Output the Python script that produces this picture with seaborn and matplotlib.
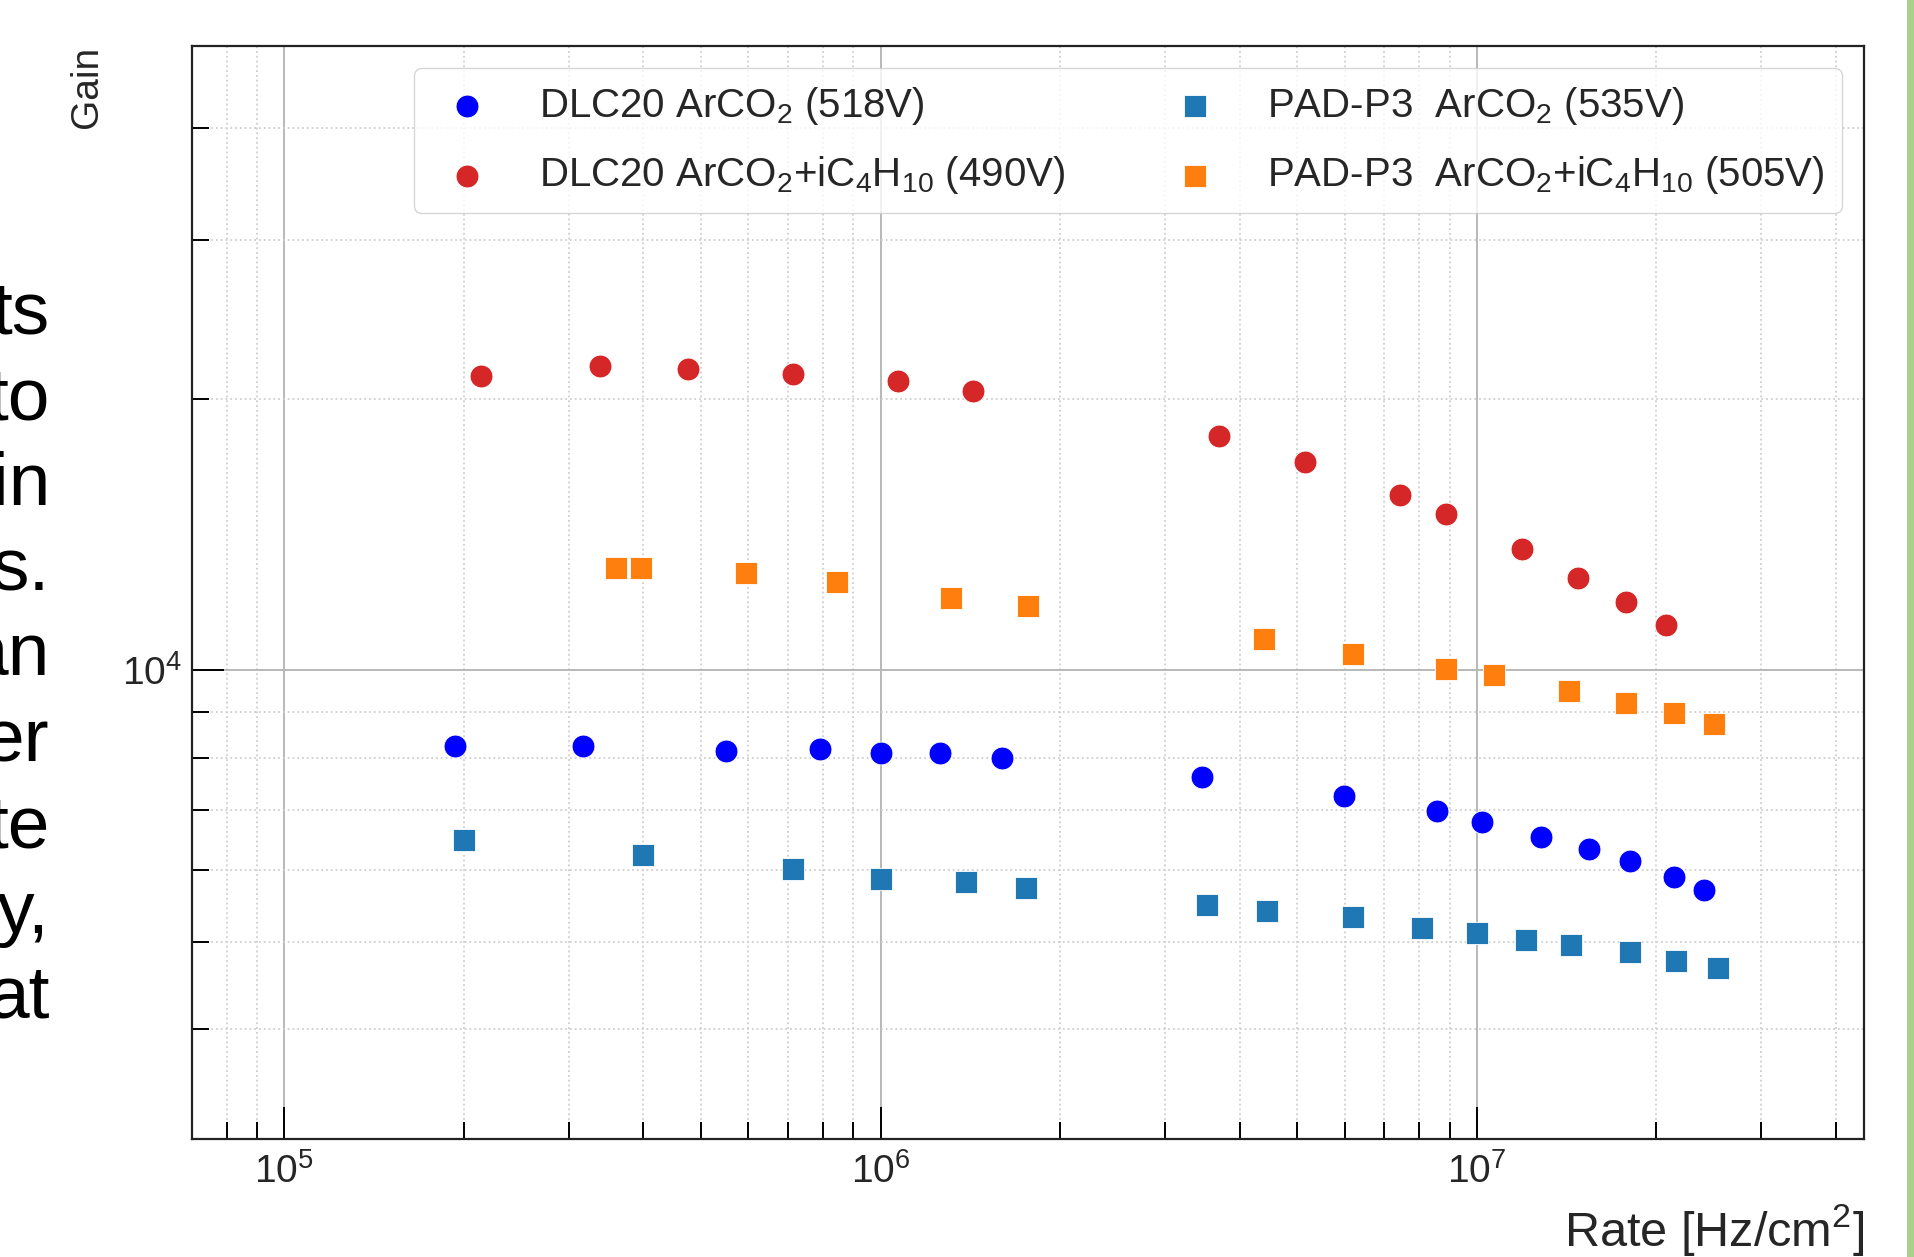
import numpy as np
import pandas as pd
import matplotlib
matplotlib.use("Agg")
import matplotlib.pyplot as plt
from matplotlib.ticker import LogLocator, NullFormatter
from matplotlib.patches import Rectangle
import seaborn as sns

# --- measured gain vs. rate -------------------------------------------------
dlc_arco2_rate = [1.93e5, 3.17e5, 5.5e5, 7.9e5, 1.0e6, 1.26e6, 1.6e6, 3.46e6,
                  5.98e6, 8.56e6, 1.02e7, 1.28e7, 1.54e7, 1.81e7, 2.14e7, 2.4e7]
dlc_arco2_gain = [8240, 8240, 8140, 8190, 8090, 8090, 7990, 7620,
                  7250, 6990, 6790, 6540, 6340, 6145, 5900, 5700]

dlc_iso_rate = [2.14e5, 3.39e5, 4.76e5, 7.14e5, 1.07e6, 1.43e6, 3.70e6,
                5.14e6, 7.43e6, 8.89e6, 1.19e7, 1.48e7, 1.78e7, 2.08e7]
dlc_iso_gain = [21210, 21750, 21610, 21340, 20950, 20430, 18200,
                17050, 15670, 14910, 13620, 12670, 11910, 11220]

pad_arco2_rate = [2.0e5, 4.0e5, 7.14e5, 1.0e6, 1.39e6, 1.75e6, 3.53e6, 4.45e6,
                  6.21e6, 8.09e6, 1.0e7, 1.21e7, 1.44e7, 1.81e7, 2.16e7, 2.54e7]
pad_arco2_gain = [6480, 6240, 6015, 5865, 5830, 5740, 5490, 5410,
                  5325, 5175, 5113, 5017, 4955, 4864, 4758, 4670]

pad_iso_rate = [3.60e5, 3.96e5, 5.94e5, 8.46e5, 1.31e6, 1.77e6, 4.40e6,
                6.21e6, 8.89e6, 1.07e7, 1.43e7, 1.78e7, 2.14e7, 2.50e7]
pad_iso_gain = [12990, 12990, 12830, 12520, 12020, 11800, 10845,
                10440, 10030, 9876, 9484, 9191, 8965, 8717]

series_labels = [
    "DLC20 ArCO$_2$ (518V)",
    "DLC20 ArCO$_2$+iC$_4$H$_{10}$ (490V)",
    "PAD-P3  ArCO$_2$ (535V)",
    "PAD-P3  ArCO$_2$+iC$_4$H$_{10}$ (505V)",
]
series_colors = ["#0000ff", "#d62728", "#1f77b4", "#ff7f0e"]
series_markers = ["o", "o", "s", "s"]

# fragment of the neighbouring slide column
side_text = ["ts", "to", "in", "s.", "an", "er", "te", "y,", "at"]

# --- style --------------------------------------------------------------------
sns.set_style("white")
plt.rcParams["font.family"] = ["Liberation Sans", "DejaVu Sans"]
plt.rcParams["mathtext.default"] = "regular"

W, H = 1914, 1257
fig = plt.figure(figsize=(W / 100, H / 100), dpi=100)
fig.patch.set_facecolor("white")
ax = fig.add_axes([192 / W, 1 - 1139 / H, (1864 - 192) / W, (1139 - 46) / H])

frames = []
for rate, gain, lab in [(dlc_arco2_rate, dlc_arco2_gain, series_labels[0]),
                        (dlc_iso_rate, dlc_iso_gain, series_labels[1]),
                        (pad_arco2_rate, pad_arco2_gain, series_labels[2]),
                        (pad_iso_rate, pad_iso_gain, series_labels[3])]:
    frames.append(pd.DataFrame({"rate": rate, "gain": gain, "series": lab}))
df = pd.concat(frames, ignore_index=True)

for lab, col, mk in zip(series_labels, series_colors, series_markers):
    sub = df[df["series"] == lab]
    sns.scatterplot(data=sub, x="rate", y="gain", color=col, marker=mk,
                    s=270, linewidth=0.6, edgecolor="white", label=lab,
                    ax=ax, zorder=3)

ax.set_xscale("log")
ax.set_yscale("log")
ax.set_xlim(7.0e4, 4.46e7)
ax.set_ylim(3020, 4.93e4)

ax.xaxis.set_major_locator(LogLocator(base=10, numticks=20))
ax.xaxis.set_minor_locator(LogLocator(base=10, subs=np.arange(2, 10), numticks=50))
ax.yaxis.set_major_locator(LogLocator(base=10, numticks=20))
ax.yaxis.set_minor_locator(LogLocator(base=10, subs=np.arange(2, 10), numticks=50))
ax.xaxis.set_minor_formatter(NullFormatter())
ax.yaxis.set_minor_formatter(NullFormatter())

ax.grid(which="major", color="#b8b8b8", linewidth=1.4, linestyle="-", zorder=0)
ax.grid(which="minor", color="#cfcfcf", linewidth=1.3, linestyle=":", zorder=0)
ax.set_axisbelow(True)

ax.tick_params(which="both", direction="in", bottom=True, left=True,
               top=False, right=False, color="black", width=1.4, labelsize=28)
ax.tick_params(which="major", length=23)
ax.tick_params(which="minor", length=12.5)
ax.tick_params(axis="y", which="major", pad=7)
ax.tick_params(axis="x", which="major", pad=10)

for sp in ax.spines.values():
    sp.set_linewidth(1.6)
    sp.set_color("#222222")

ax.set_xlabel("Rate [Hz/cm$^2$]", fontsize=35, loc="right")
ax.xaxis.label.set_va("baseline")
ax.xaxis.set_label_coords(1.0, -0.0975)
ax.set_ylabel("Gain", fontsize=28, loc="top")
ax.yaxis.set_label_coords(-0.052, 1.0)

ax.legend(ncol=2, loc="upper right", fontsize=29, borderaxespad=0.55,
          borderpad=0.42, handlelength=1.75, handletextpad=0.93,
          columnspacing=2.33, labelspacing=0.68,
          frameon=True, fancybox=True, edgecolor="#cccccc", framealpha=0.8,
          markerscale=1.0)

# neighbouring slide text, cut by the left edge
for i, word in enumerate(side_text):
    y_px = 334 + i * 85.5
    fig.text(50 / W, 1 - y_px / H, word, ha="right", va="baseline",
             fontsize=54, color="black", family=["Liberation Sans", "DejaVu Sans"])

# green accent bar along the right edge
fig.patches.append(Rectangle((1907 / W, 0), 1 - 1907 / W, 1,
                             transform=fig.transFigure, facecolor="#a9d18e",
                             edgecolor="none"))

fig.savefig("out.png", dpi=100, facecolor="white")
